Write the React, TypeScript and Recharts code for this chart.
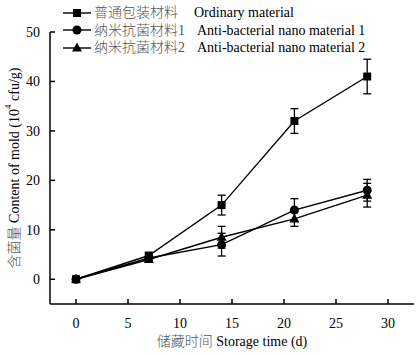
import React from 'react';
import { LineChart, Line, XAxis, YAxis, ErrorBar, Label } from 'recharts';

const days = [0, 7, 14, 21, 28];
const ordinary = [0, 4.8, 15, 32, 41];
const ordinaryErr = [0.3, 0.5, 2, 2.5, 3.5];
const nano1 = [0, 4.3, 7, 14, 18];
const nano1Err = [0.3, 0.5, 2.3, 2.3, 2.2];
const nano2 = [0, 4.0, 8.5, 12.2, 17];
const nano2Err = [0.3, 0.5, 2.2, 1.5, 2.4];

const xTicks = [0, 5, 10, 15, 20, 25, 30];
const yTicks = [0, 10, 20, 30, 40, 50];

const seriesNames = [
  { cn: '普通包装材料', en: 'Ordinary material', gap: 16, marker: 'square' },
  { cn: '纳米抗菌材料1', en: 'Anti-bacterial nano material 1', gap: 12, marker: 'circle' },
  { cn: '纳米抗菌材料2', en: 'Anti-bacterial nano material 2', gap: 12, marker: 'triangle' },
];

const data = days.map((d, i) => ({
  day: d,
  ord: ordinary[i],
  ordErr: ordinaryErr[i],
  n1: nano1[i],
  n1Err: nano1Err[i],
  n2: nano2[i],
  n2Err: nano2Err[i],
}));

const FONT = 'Times New Roman, Liberation Serif, DejaVu Serif, Noto Sans CJK SC, serif';
const CN_COLOR = '#555';

const Marker = ({ cx, cy, kind }: { cx: number; cy: number; kind: string }) => {
  if (kind === 'square') return <rect x={cx - 4} y={cy - 4} width={8} height={8} fill="#000" />;
  if (kind === 'circle') return <circle cx={cx} cy={cy} r={4.5} fill="#000" />;
  return <polygon points={`${cx},${cy - 5.5} ${cx - 5},${cy + 3.5} ${cx + 5},${cy + 3.5}`} fill="#000" />;
};

const dotFor = (kind: string) => (props: any) => (
  <Marker key={`${kind}-${props.index}`} cx={props.cx} cy={props.cy} kind={kind} />
);

const LegendBox = () => (
  <div
    style={{
      position: 'absolute',
      top: 4,
      left: 63,
      fontFamily: FONT,
      fontSize: 14,
      lineHeight: '17.5px',
      color: '#000',
    }}
  >
    {seriesNames.map((s) => (
      <div key={s.cn} style={{ display: 'flex', alignItems: 'center', whiteSpace: 'pre' }}>
        <svg width={28} height={12} style={{ marginRight: 3 }}>
          <line x1={0} x2={28} y1={6} y2={6} stroke="#000" strokeWidth={1.4} />
          <Marker cx={14} cy={6} kind={s.marker} />
        </svg>
        <span style={{ color: CN_COLOR, fontWeight: 300 }}>{s.cn}</span>
        <span style={{ marginLeft: s.gap }}>{s.en}</span>
      </div>
    ))}
  </div>
);

const YLabel = (props: any) => {
  const vb = props.viewBox;
  const cx = 14;
  const cy = vb.y + vb.height / 2;
  return (
    <text
      x={cx}
      y={cy}
      transform={`rotate(-90, ${cx}, ${cy})`}
      textAnchor="middle"
      dominantBaseline="central"
      fontFamily={FONT}
      fontSize={14}
      fill="#000"
    >
      <tspan fill={CN_COLOR} fontWeight={300}>含菌量 </tspan>
      Content of mold (10
      <tspan fontSize={9} dy={-6}>4</tspan>
      <tspan dy={6}> cfu/g)</tspan>
    </text>
  );
};

const XLabel = (p: any) => (
  <text
    x={p.viewBox.x + p.viewBox.width / 2}
    y={346}
    textAnchor="middle"
    fontFamily={FONT}
    fontSize={14}
    fill="#000"
  >
    <tspan fill={CN_COLOR} fontWeight={300}>储藏时间 </tspan>Storage time (d)
  </text>
);

const App = () => (
  <div style={{ position: 'relative', width: 420, height: 355 }}>
    <style>{`body{margin:0}`}</style>
    <LineChart width={420} height={355} data={data} margin={{ top: 32, right: 6, bottom: 0, left: 0 }}>
      <XAxis
        dataKey="day"
        type="number"
        domain={[-2.5, 32.5]}
        ticks={xTicks}
        allowDataOverflow
        height={51}
        stroke="#000"
        strokeWidth={1.5}
        tickSize={-5}
        tickMargin={19}
        tick={{ fill: '#000', fontSize: 14, fontFamily: FONT }}
      >
        <Label content={XLabel} />
      </XAxis>
      <YAxis
        type="number"
        domain={[-5, 50]}
        ticks={yTicks}
        allowDataOverflow
        width={50}
        stroke="#000"
        strokeWidth={1.5}
        tickSize={-5}
        tickMargin={15}
        tick={{ fill: '#000', fontSize: 14, fontFamily: FONT }}
      >
        <Label content={YLabel} />
      </YAxis>
      <Line dataKey="ord" stroke="#000" strokeWidth={1.4} dot={dotFor('square')} isAnimationActive={false}>
        <ErrorBar dataKey="ordErr" width={4} stroke="#000" strokeWidth={1.3} direction="y" isAnimationActive={false} />
      </Line>
      <Line dataKey="n1" stroke="#000" strokeWidth={1.4} dot={dotFor('circle')} isAnimationActive={false}>
        <ErrorBar dataKey="n1Err" width={4} stroke="#000" strokeWidth={1.3} direction="y" isAnimationActive={false} />
      </Line>
      <Line dataKey="n2" stroke="#000" strokeWidth={1.4} dot={dotFor('triangle')} isAnimationActive={false}>
        <ErrorBar dataKey="n2Err" width={4} stroke="#000" strokeWidth={1.3} direction="y" isAnimationActive={false} />
      </Line>
    </LineChart>
    <LegendBox />
  </div>
);

export default App;
